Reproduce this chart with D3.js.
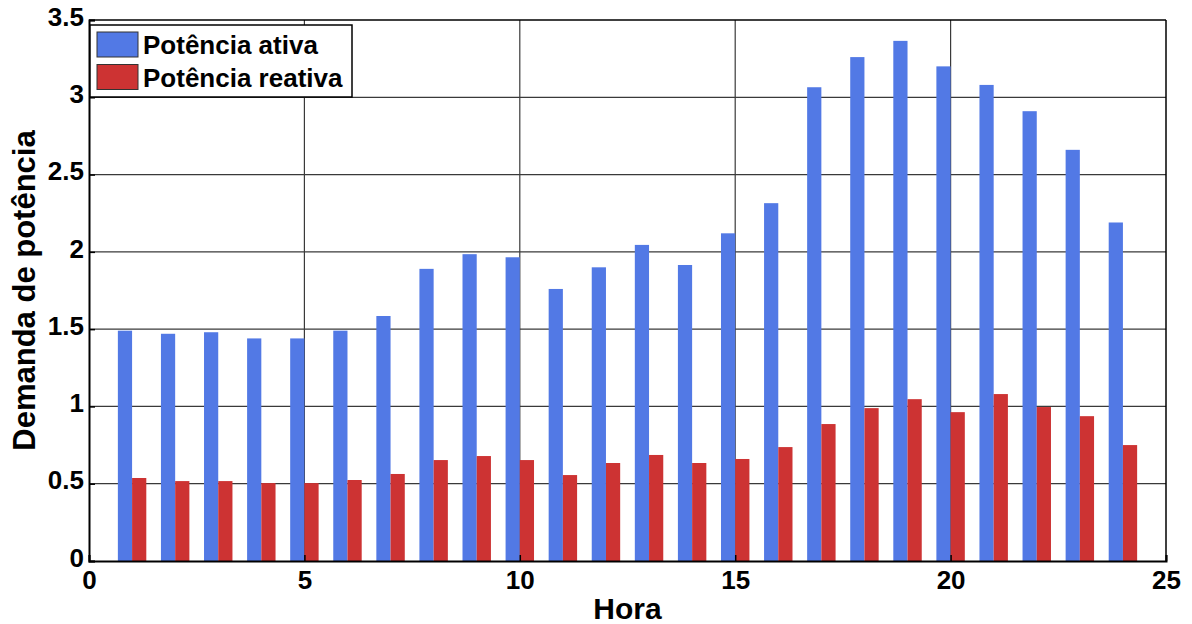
<!DOCTYPE html>
<html>
<head>
<meta charset="utf-8">
<script src="https://cdn.jsdelivr.net/npm/d3@7"></script>
<style>
  body { margin: 0; background: #fff; }
  text { font-family: "Liberation Sans", Arial, sans-serif; font-weight: bold; }
</style>
</head>
<body>
<div id="chart"></div>
<script>
const hours = d3.range(1, 25);
const ativa = [1.49, 1.47, 1.48, 1.44, 1.44, 1.49, 1.585, 1.89, 1.985, 1.965, 1.76, 1.90, 2.045, 1.915, 2.12, 2.315, 3.065, 3.26, 3.365, 3.20, 3.08, 2.91, 2.66, 2.19];
const reativa = [0.537, 0.517, 0.517, 0.504, 0.504, 0.524, 0.563, 0.653, 0.679, 0.653, 0.556, 0.634, 0.686, 0.634, 0.66, 0.737, 0.886, 0.989, 1.047, 0.963, 1.08, 0.996, 0.937, 0.75];
const xTicks = [0, 5, 10, 15, 20, 25];
const yTicks = [0, 0.5, 1, 1.5, 2, 2.5, 3, 3.5];
const seriesNames = ["Potência ativa", "Potência reativa"];
const colors = ["#5279e5", "#cd3333"];

const dim = {
    width: 1192,
    height: 624,
    margin: { top: 20, left: 89, bottom: 63, right: 26 }
};
dim.boundedWidth = dim.width - dim.margin.left - dim.margin.right;
dim.boundedHeight = dim.height - dim.margin.top - dim.margin.bottom;

const svg = d3.select("#chart").append("svg")
    .attr("width", dim.width)
    .attr("height", dim.height);

const bounded = svg.append("g")
    .attr("transform", `translate(${dim.margin.left},${dim.margin.top})`);

const xScale = d3.scaleLinear().domain([0, 25]).range([0, dim.boundedWidth]);
const yScale = d3.scaleLinear().domain([0, 3.5]).range([dim.boundedHeight, 0]);

// grid
bounded.append("g")
    .selectAll("line")
    .data(xTicks.slice(1, -1))
    .join("line")
    .attr("x1", d => xScale(d)).attr("x2", d => xScale(d))
    .attr("y1", 0).attr("y2", dim.boundedHeight)
    .attr("stroke", "#3a3a3a").attr("stroke-width", 1.2);
bounded.append("g")
    .selectAll("line")
    .data(yTicks.slice(1, -1))
    .join("line")
    .attr("x1", 0).attr("x2", dim.boundedWidth)
    .attr("y1", d => yScale(d)).attr("y2", d => yScale(d))
    .attr("stroke", "#3a3a3a").attr("stroke-width", 1.2);

// bars
const barW = 0.33;
const bars = hours.map((h, i) => ({ h, a: ativa[i], r: reativa[i] }));
bounded.append("g").selectAll("rect")
    .data(bars)
    .join("rect")
    .attr("x", d => xScale(d.h - barW))
    .attr("width", xScale(barW) - xScale(0))
    .attr("y", d => yScale(d.a))
    .attr("height", d => yScale(0) - yScale(d.a))
    .attr("fill", colors[0]);
bounded.append("g").selectAll("rect")
    .data(bars)
    .join("rect")
    .attr("x", d => xScale(d.h))
    .attr("width", xScale(barW) - xScale(0))
    .attr("y", d => yScale(d.r))
    .attr("height", d => yScale(0) - yScale(d.r))
    .attr("fill", colors[1]);

// axes
const xAxis = d3.axisBottom(xScale).tickValues(xTicks).tickSize(-6).tickPadding(12).tickFormat(d3.format("d"));
const yAxis = d3.axisLeft(yScale).tickValues(yTicks).tickSize(-6).tickPadding(5).tickFormat(d => d);

const gx = bounded.append("g")
    .attr("transform", `translate(0,${dim.boundedHeight})`)
    .call(xAxis);
const gy = bounded.append("g").call(yAxis);
[gx, gy].forEach(g => {
    g.select(".domain").attr("stroke", "#000").attr("stroke-width", 2);
    g.selectAll(".tick line").attr("stroke", "#000").attr("stroke-width", 1.5);
    g.selectAll(".tick text").attr("font-size", 26).attr("fill", "#000");
});
gy.selectAll(".tick text").attr("dy", "0.2em");
gx.selectAll(".tick text").attr("dy", "0.6em");

// box top / right
bounded.append("line")
    .attr("x1", 0).attr("x2", dim.boundedWidth).attr("y1", 0).attr("y2", 0)
    .attr("stroke", "#000").attr("stroke-width", 1.5);
bounded.append("line")
    .attr("x1", dim.boundedWidth).attr("x2", dim.boundedWidth).attr("y1", 0).attr("y2", dim.boundedHeight)
    .attr("stroke", "#000").attr("stroke-width", 1.5);

// labels
svg.append("text")
    .attr("x", dim.margin.left + dim.boundedWidth / 2)
    .attr("y", 619)
    .attr("text-anchor", "middle")
    .attr("font-size", 30)
    .text("Hora");
svg.append("text")
    .attr("transform", `translate(35,${dim.margin.top + dim.boundedHeight / 2}) rotate(-90)`)
    .attr("text-anchor", "middle")
    .attr("font-size", 31)
    .text("Demanda de potência");

// legend
const legend = svg.append("g").attr("transform", "translate(90,25)");
legend.append("rect")
    .attr("width", 262).attr("height", 72)
    .attr("fill", "#fff").attr("stroke", "#000").attr("stroke-width", 1.5);
seriesNames.forEach((name, i) => {
    const row = legend.append("g").attr("transform", `translate(7,${7 + i * 32.5})`);
    row.append("rect")
        .attr("width", 41).attr("height", 25)
        .attr("fill", colors[i]).attr("stroke", "#333").attr("stroke-width", 1);
    row.append("text")
        .attr("x", 46).attr("y", 22)
        .attr("font-size", 26)
        .text(name);
});
</script>
</body>
</html>
